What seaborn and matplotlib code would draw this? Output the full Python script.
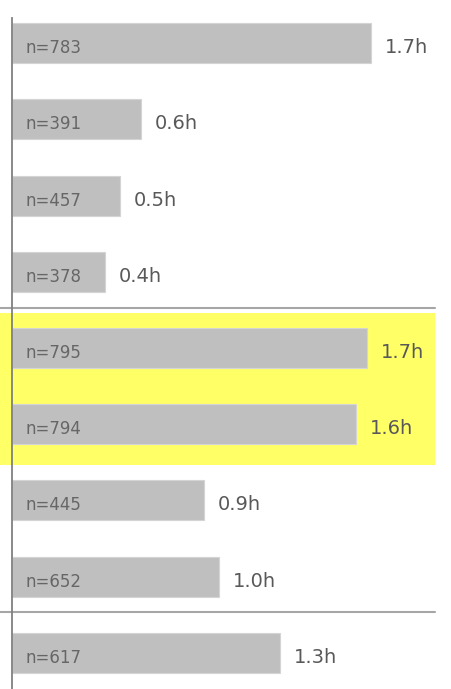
import matplotlib
matplotlib.use("Agg")
import matplotlib.pyplot as plt
import pandas as pd
import seaborn as sns

# values in hours
sample_sizes = ["n=783", "n=391", "n=457", "n=378", "n=795", "n=794", "n=445", "n=652", "n=617"]
hours = [1.70, 0.61, 0.51, 0.44, 1.68, 1.63, 0.91, 0.98, 1.27]
group_breaks = [3.48, 7.46]
highlight_rows = (3.54, 5.53)

BAR_COLOR = "#bfbfbf"
TEXT_COLOR = "#595959"

df = pd.DataFrame({"group": sample_sizes, "hours": hours})

sns.set_theme(style="white")
plt.rcParams["font.family"] = ["DejaVu Sans"]

fig = plt.figure(figsize=(4.52, 6.89), dpi=100)
ax = fig.add_axes([0, 0, 1, 1])

sns.barplot(
    data=df, x="hours", y="group", orient="h", color=BAR_COLOR,
    width=0.525, edgecolor="#d4d4d4", linewidth=0.8, saturation=1, ax=ax,
)

ax.set_xlim(-0.0569, 2.085)
ax.set_ylim(8.474, -0.568)

# highlighted block and group separators
ax.axhspan(*highlight_rows, xmin=0, xmax=0.962, color="#ffff66", zorder=0, lw=0)
for y in group_breaks:
    ax.axhline(y, xmin=0, xmax=0.962, color="#a6a6a6", lw=1.5, zorder=0.5)

for patch, n_label, value in zip(ax.patches, sample_sizes, hours):
    yc = patch.get_y() + patch.get_height() / 2
    ax.annotate(n_label, (0, yc), xytext=(9.5, -7.2), textcoords="offset points",
                ha="left", va="baseline", fontsize=12, color="#666666")
    ax.annotate(f"{value:.1f}h", (patch.get_width(), yc), xytext=(10, -7.2),
                textcoords="offset points", ha="left", va="baseline",
                fontsize=14, color=TEXT_COLOR)

sns.despine(ax=ax, top=True, right=True, bottom=True, left=False)
ax.spines["left"].set_position(("data", 0))
ax.spines["left"].set_bounds(8.474, -0.332)
ax.spines["left"].set_color("#808080")
ax.spines["left"].set_linewidth(1.3)
ax.set_xticks([])
ax.set_yticks([])
ax.set_xlabel("")
ax.set_ylabel("")
ax.patch.set_alpha(0)

fig.savefig("out.png", dpi=100)
